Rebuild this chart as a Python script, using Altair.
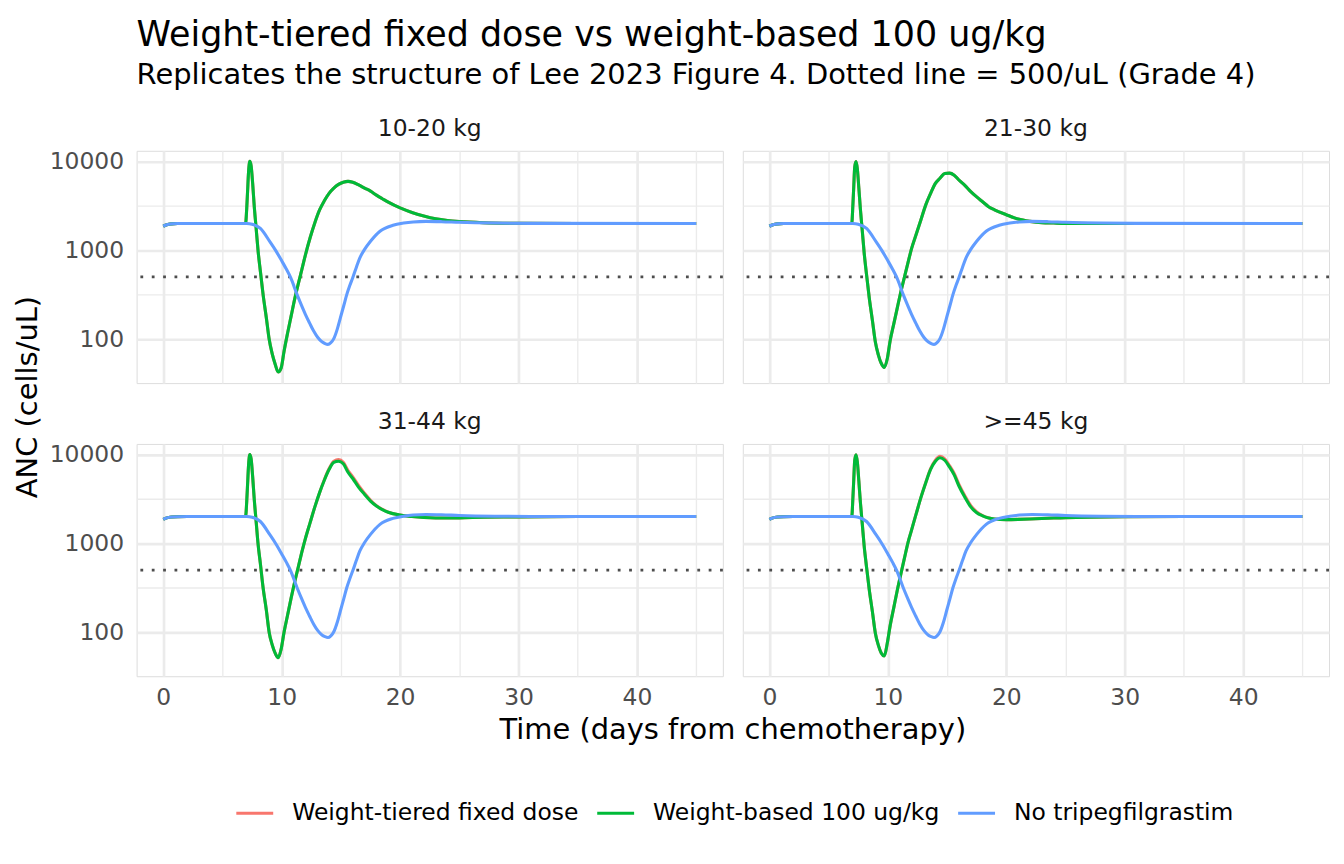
import altair as alt
import pandas as pd

PANELS = ["10-20 kg", "21-30 kg", "31-44 kg", ">=45 kg"]
PANEL_ROW = ["top", "top", "bottom", "bottom"]
PANEL_COL = ["left", "right", "left", "right"]
SERIES = ["Weight-tiered fixed dose", "Weight-based 100 ug/kg", "No tripegfilgrastim"]
COLORS = ["#F8766D", "#00BA38", "#619CFF"]
THRESHOLD = 500

X_MAJOR = [0, 10, 20, 30, 40]
X_GRID = [0, 5, 10, 15, 20, 25, 30, 35, 40, 45]
Y_MAJOR = [100, 1000, 10000]
Y_GRID = [100, 316.2278, 1000, 3162.278, 10000]

# No tripegfilgrastim (same in every panel)
T_BLUE = [0, 0.3, 0.7, 1.2, 2, 7.05, 7.5, 8.2, 9.0, 9.5, 10.0, 10.4, 10.76, 11.3, 11.7,
          12.0, 12.35, 12.7, 13.05, 13.4, 13.65, 13.9, 14.15, 14.4, 14.7, 14.96, 15.25,
          15.5, 15.75, 16.0, 16.3, 16.6, 17.0, 17.5, 18.3, 19.4, 20.3, 21.1, 22.2, 23.5,
          25, 28, 31, 45]
V_BLUE = [1860, 1935, 1978, 1995, 2000, 2000, 1960, 1760, 1250, 990, 760, 610, 490, 316, 235,
          190, 152, 123, 104, 93, 89, 87, 91, 101, 130, 174, 240,
          318, 400, 490, 640, 820, 1020, 1260, 1635, 1910, 2020, 2080, 2110, 2095,
          2060, 2020, 2005, 2000]

T_DRUG = [0, 0.3, 0.7, 1.2, 2, 6.95, 7.05, 7.12, 7.2, 7.31, 7.42, 7.55, 7.68, 7.84,
          8.0, 8.2, 8.43, 8.7, 8.94, 9.2, 9.45, 9.7, 9.95, 10.2, 10.5, 10.8, 11.1, 11.4, 11.7,
          12.0, 12.4, 12.8, 13.2, 13.6, 14.0, 14.4, 14.8, 15.2, 15.6, 16.0, 16.5, 17.0, 17.5,
          18.0, 18.5, 19.0, 20.0, 21.0, 22.0, 23.0, 24.0, 25.0, 27.0, 30.0, 35.0, 45.0]

GREEN_P1 = [1860, 1935, 1978, 1995, 2000,
            2000, 3000, 4600, 7500, 10000, 8900, 5600, 3162, 1780,
            1000, 580, 316, 175, 100,
            68, 52, 42.5, 47,
            73, 117, 182,
            283, 417, 605,
            880, 1380, 2040,
            2840, 3600,
            4370, 5000, 5500,
            5820, 5960,
            5820, 5430,
            5000, 4620,
            4170, 3800,
            3470,
            2990, 2660, 2430, 2260, 2160, 2100,
            2040, 2010, 2000, 2000]
GREEN_P2 = [1860, 1935, 1978, 1995, 2000,
            2000, 3300, 5200, 8600, 9950, 8300, 5000, 2900, 1650,
            930, 530, 290, 160, 93,
            66, 53, 48, 60,
            97, 148, 226,
            341, 497, 724,
            1040, 1520, 2220,
            3240, 4330,
            5620, 6460, 7300,
            7380, 7000,
            6170, 5370,
            4570, 3980,
            3510, 3090,
            2850,
            2510, 2240, 2110, 2040, 2020, 2005,
            2000, 2000, 2000, 2000]
GREEN_P3 = [1860, 1935, 1978, 1995, 2000,
            2000, 3000, 4600, 7500, 10000, 8900, 5600, 3162, 1780,
            1000, 590, 316, 178, 100,
            72, 58, 51.5, 64,
            100, 156, 243,
            369, 541, 794,
            1130, 1710, 2570,
            3720, 5130,
            6760, 8150, 8400,
            7850, 6310,
            5370, 4270,
            3550, 2990,
            2630, 2400,
            2240,
            2080, 2000, 1950, 1930, 1930, 1935,
            1965, 1985, 2000, 2000]
GREEN_P4 = [1860, 1935, 1978, 1995, 2000,
            2000, 3300, 5200, 8600, 9950, 8300, 5000, 2900, 1650,
            930, 540, 300, 168, 98,
            71, 58, 54, 75,
            120, 189, 298,
            452, 681, 1020,
            1410, 2170, 3310,
            4820, 6760,
            8320, 9200, 8610,
            7240, 5890,
            4420, 3310,
            2570, 2210,
            2040, 1930,
            1880,
            1850, 1860, 1880, 1905, 1925, 1940,
            1970, 1990, 2000, 2000]

# Weight-tiered fixed dose: coincides with the green curve except near the second peak
RED_P1 = GREEN_P1
RED_P2 = GREEN_P2
RED_P3 = [1860, 1935, 1978, 1995, 2000,
          2000, 3000, 4600, 7500, 10000, 8900, 5600, 3162, 1780,
          1000, 590, 316, 178, 100,
          72, 58, 51.5, 64,
          100, 156, 243,
          369, 541, 794,
          1130, 1710, 2570,
          3720, 5200,
          6900, 8400, 8750,
          8150, 6600,
          5600, 4450,
          3650, 3050,
          2650, 2410,
          2240,
          2080, 2000, 1950, 1930, 1930, 1935,
          1965, 1985, 2000, 2000]
RED_P4 = [1860, 1935, 1978, 1995, 2000,
          2000, 3300, 5200, 8600, 9950, 8300, 5000, 2900, 1650,
          930, 540, 300, 168, 98,
          71, 58, 54, 75,
          120, 189, 298,
          452, 681, 1020,
          1410, 2170, 3310,
          4820, 6900,
          8600, 9550, 8950,
          7500, 6100,
          4600, 3430,
          2650, 2260,
          2050, 1935,
          1880,
          1850, 1860, 1880, 1905, 1925, 1940,
          1970, 1990, 2000, 2000]

RED = [RED_P1, RED_P2, RED_P3, RED_P4]
GREEN = [GREEN_P1, GREEN_P2, GREEN_P3, GREEN_P4]

records = []
for i, p in enumerate(PANELS):
    common = dict(panel=p, row=PANEL_ROW[i], col=PANEL_COL[i])
    for t, v in zip(T_DRUG, RED[i]):
        records.append(dict(common, layer="line", series=SERIES[0], t=t, v=v))
    for t, v in zip(T_DRUG, GREEN[i]):
        records.append(dict(common, layer="line", series=SERIES[1], t=t, v=v))
    for t, v in zip(T_BLUE, V_BLUE):
        records.append(dict(common, layer="line", series=SERIES[2], t=t, v=v))
    records.append(dict(common, layer="threshold", series="", t=0, v=THRESHOLD))
    records.append(dict(common, layer="label", series="", t=0, v=THRESHOLD))
df = pd.DataFrame(records)

W, H = 588, 233
FONT = "DejaVu Sans"
GRID = "#EBEBEB"
LW = 3.1

x_axis = alt.Axis(
    values=X_GRID,
    labelExpr="indexof([0,10,20,30,40], datum.value) >= 0 ? datum.label : ''",
    title=None, domain=False, ticks=False, grid=True, gridColor=GRID,
    gridWidth={"condition": {"test": "indexof([0,10,20,30,40], datum.value) >= 0", "value": 2.7}, "value": 1.35},
    labelFontSize=23.5, labelColor="#4D4D4D", labelPadding=8, labelFlush=False,
    labelOverlap=False, labelFont=FONT,
)
y_axis = alt.Axis(
    values=Y_GRID, format="d",
    labelExpr="indexof([100,1000,10000], datum.value) >= 0 ? datum.label : ''",
    title=None, domain=False, ticks=False, grid=True, gridColor=GRID,
    gridWidth={"condition": {"test": "indexof([100,1000,10000], datum.value) >= 0", "value": 2.7}, "value": 1.35},
    labelFontSize=23.5, labelColor="#4D4D4D", labelPadding=11, labelOverlap=False,
    labelFont=FONT,
)

x_enc = alt.X("t:Q", scale=alt.Scale(domain=[-2.25, 47.25], nice=False, zero=False), axis=x_axis)
y_enc = alt.Y("v:Q", scale=alt.Scale(type="log", domain=[31.9, 13150], nice=False), axis=y_axis)
color_enc = alt.Color(
    "series:N",
    scale=alt.Scale(domain=SERIES, range=COLORS),
    legend=alt.Legend(
        title=None, orient="none", direction="horizontal", legendX=98, legendY=644,
        symbolType="stroke", symbolSize=1369, symbolStrokeWidth=LW,
        labelFontSize=23.5, labelColor="black", labelFont=FONT, labelLimit=500,
        labelOffset=17, columnPadding=11, padding=0,
    ),
)

base = alt.Chart()

rule = base.mark_rule(color="#4D4D4D", strokeWidth=2.8, strokeDash=[2.8, 8.6]).encode(
    y=y_enc
).transform_filter(alt.datum.layer == "threshold")


def series_layer(name):
    return base.mark_line(strokeWidth=LW, interpolate="monotone").encode(
        x=x_enc, y=y_enc, color=color_enc
    ).transform_filter(alt.datum.series == name)


label = base.mark_text(fontSize=23.5, color="#1A1A1A", baseline="middle", align="center", font=FONT).encode(
    text="panel:N", x=alt.value(W / 2), y=alt.value(-22)
).transform_filter(alt.datum.layer == "label")

layered = alt.layer(
    rule, series_layer(SERIES[0]), series_layer(SERIES[1]), series_layer(SERIES[2]), label,
    data=df,
).properties(width=W, height=H)

chart = layered.facet(
    row=alt.Row("row:N", sort=["top", "bottom"], header=alt.Header(
        title="ANC (cells/uL)", titleOrient="left", labels=False, titleFontSize=29,
        titleFont=FONT, titleColor="black", titleFontWeight="normal", titlePadding=-4,
        labelPadding=0,
    )),
    column=alt.Column("col:N", sort=["left", "right"], header=alt.Header(
        title="Time (days from chemotherapy)", titleOrient="bottom", labels=False, titleFontSize=29,
        titleFont=FONT, titleColor="black", titleFontWeight="normal", titlePadding=-3,
        labelPadding=0,
    )),
    spacing={"row": 25, "column": 16},
).properties(
    title=alt.TitleParams(
        text="Weight-tiered fixed dose vs weight-based 100 ug/kg",
        subtitle="Replicates the structure of Lee 2023 Figure 4. Dotted line = 500/uL (Grade 4)",
        anchor="start", frame="group", fontSize=35, subtitleFontSize=29, font=FONT,
        subtitleFont=FONT, fontWeight="normal", color="black", subtitleColor="black",
        offset=27, subtitlePadding=8,
    ),
    padding={"left": 5, "top": 8, "right": 5, "bottom": 5},
).configure_view(stroke=None).configure(font=FONT)

chart.save("out.html", embed_options={"renderer": "svg", "actions": False})
